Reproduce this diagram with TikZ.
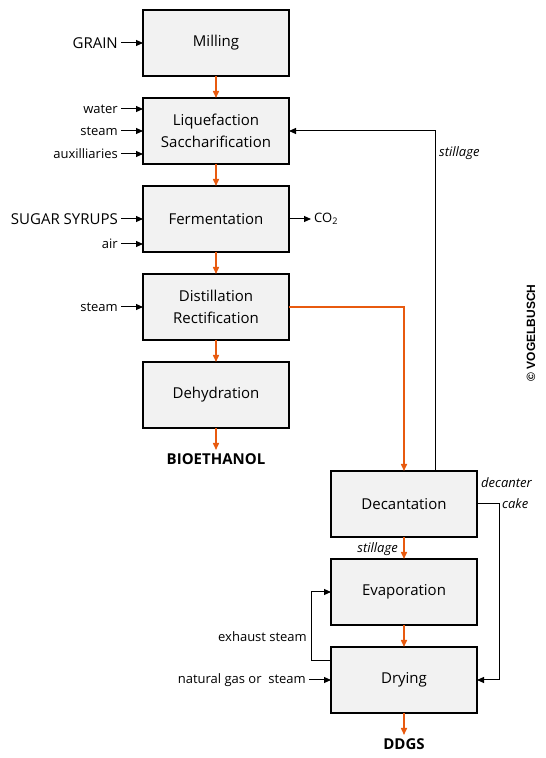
\documentclass[tikz,border=0pt]{standalone}
\usepackage{fontspec}
\setmainfont{Open Sans}
\newfontfamily\vbfont{Liberation Sans}
\usepackage{tikz}
\usetikzlibrary{positioning, arrows.meta, calc}
\definecolor{procorange}{RGB}{232,90,15}
\definecolor{boxgray}{RGB}{242,242,242}

\begin{document}
\begin{tikzpicture}[x=1pt, y=1pt,
		stage/.style={draw, line width=2pt, fill=boxgray, minimum width=146pt, minimum height=66pt, align=center, inner sep=0pt, outer sep=0pt, font=\fontsize{15}{22}\selectfont},
		feed/.style={-{Triangle[length=7pt, width=6pt]}, line width=1pt},
		flow/.style={-{Triangle[length=7pt, width=6pt]}, line width=1.5pt, procorange},
		lbl/.style={inner sep=3pt, font=\fontsize{13}{15}\selectfont},
		big/.style={inner sep=3pt, font=\fontsize{15}{18}\selectfont},
		note/.style={inner sep=2pt, font=\fontsize{13}{15}\selectfont\itshape},
		product/.style={inner sep=3pt, font=\fontsize{15}{18}\selectfont\bfseries}]
			\useasboundingbox (0,0) rectangle (546,758);
			
			\node[stage] (milling) at (216,715) {Milling};
			\node[stage, below=22pt of milling] (liq) {Liquefaction\\Saccharification};
			\node[stage, below=22pt of liq] (ferm) {Fermentation};
			\node[stage, below=22pt of ferm] (dist) {Distillation\\Rectification};
			\node[stage, below=22pt of dist] (dehy) {Dehydration};
			\node[product, below=22pt of dehy] (bio) {BIOETHANOL};
			
			\draw[flow] (milling) -- (liq);
			\draw[flow] (liq) -- (ferm);
			\draw[flow] (ferm) -- (dist);
			\draw[flow] (dist) -- (dehy);
			\draw[flow] (dehy) -- (bio);
			
			\node[big, left=22pt of milling] (grain) {GRAIN};
			\draw[feed] (grain) -- (milling);
			
			\node[lbl, anchor=east] (water) at ($(liq.west)+(-22,22)$) {water};
			\node[lbl, left=22pt of liq] (steam-liq) {steam};
			\node[lbl, anchor=east] (aux) at ($(liq.west)+(-22,-23)$) {auxilliaries};
			\draw[feed] (water) -- (water -| liq.west);
			\draw[feed] (steam-liq) -- (liq);
			\draw[feed] (aux) -- (aux -| liq.west);
			
			\node[big, left=22pt of ferm] (sugar) {SUGAR SYRUPS};
			\node[lbl, anchor=east] (air) at ($(ferm.west)+(-22,-25)$) {air};
			\draw[feed] (sugar) -- (ferm);
			\draw[feed] (air) -- (air -| ferm.west);
			
			\node[lbl, right=22pt of ferm] (co2) {CO\textsubscript{2}};
			\draw[feed] (ferm) -- (co2);
			
			\node[lbl, left=22pt of dist] (steam-dist) {steam};
			\draw[feed] (steam-dist) -- (dist);
			
			\node[stage] (decant) at (404,254) {Decantation};
			\node[stage, below=22pt of decant] (evap) {Evaporation};
			\node[stage, below=22pt of evap] (dry) {Drying};
			\node[product, below=22pt of dry] (ddgs) {DDGS};
			
			\draw[flow] (dist) -| (decant);
			\draw[flow] (decant) -- (evap);
			\draw[flow] (evap) -- (dry);
			\draw[flow] (dry) -- (ddgs);
			
			\node[note, anchor=east] (still-low) at ($(decant.south)+(-4,-12)$) {stillage};
			
			\coordinate (ret) at ($(decant.north east)+(-42,0)$);
			\draw[feed] (ret) |- (liq.east);
			\node[note, anchor=west] (still-up) at ($(ret |- liq.east)+(2,-22)$) {stillage};
			
			\coordinate (cake) at ($(decant.east)+(22,0)$);
			\draw[feed] (decant.east) -- (cake) |- (dry.east);
			\node[note, anchor=west] (cake-a) at ($(decant.east)+(2,21)$) {decanter};
			\node[note, anchor=west] (cake-b) at ($(cake)+(1,0)$) {cake};
			
			\coordinate (exh-out) at ($(dry.west)+(0,19)$);
			\coordinate (exh) at ($(dry.west)+(-20,19)$);
			\draw[feed] (exh-out) -- (exh) |- (evap.west);
			\node[lbl, anchor=east] (exh-txt) at ($(exh)+(-1,24)$) {exhaust steam};
			
			\node[lbl, left=22pt of dry] (gas) {natural gas or~ steam};
			\draw[feed] (gas) -- (dry);
			
			\node[rotate=90, font=\vbfont\bfseries\fontsize{12}{14}\selectfont] (vb) at (531,425) {\textcopyright{} VOGELBUSCH};
	\end{tikzpicture}
\end{document}
